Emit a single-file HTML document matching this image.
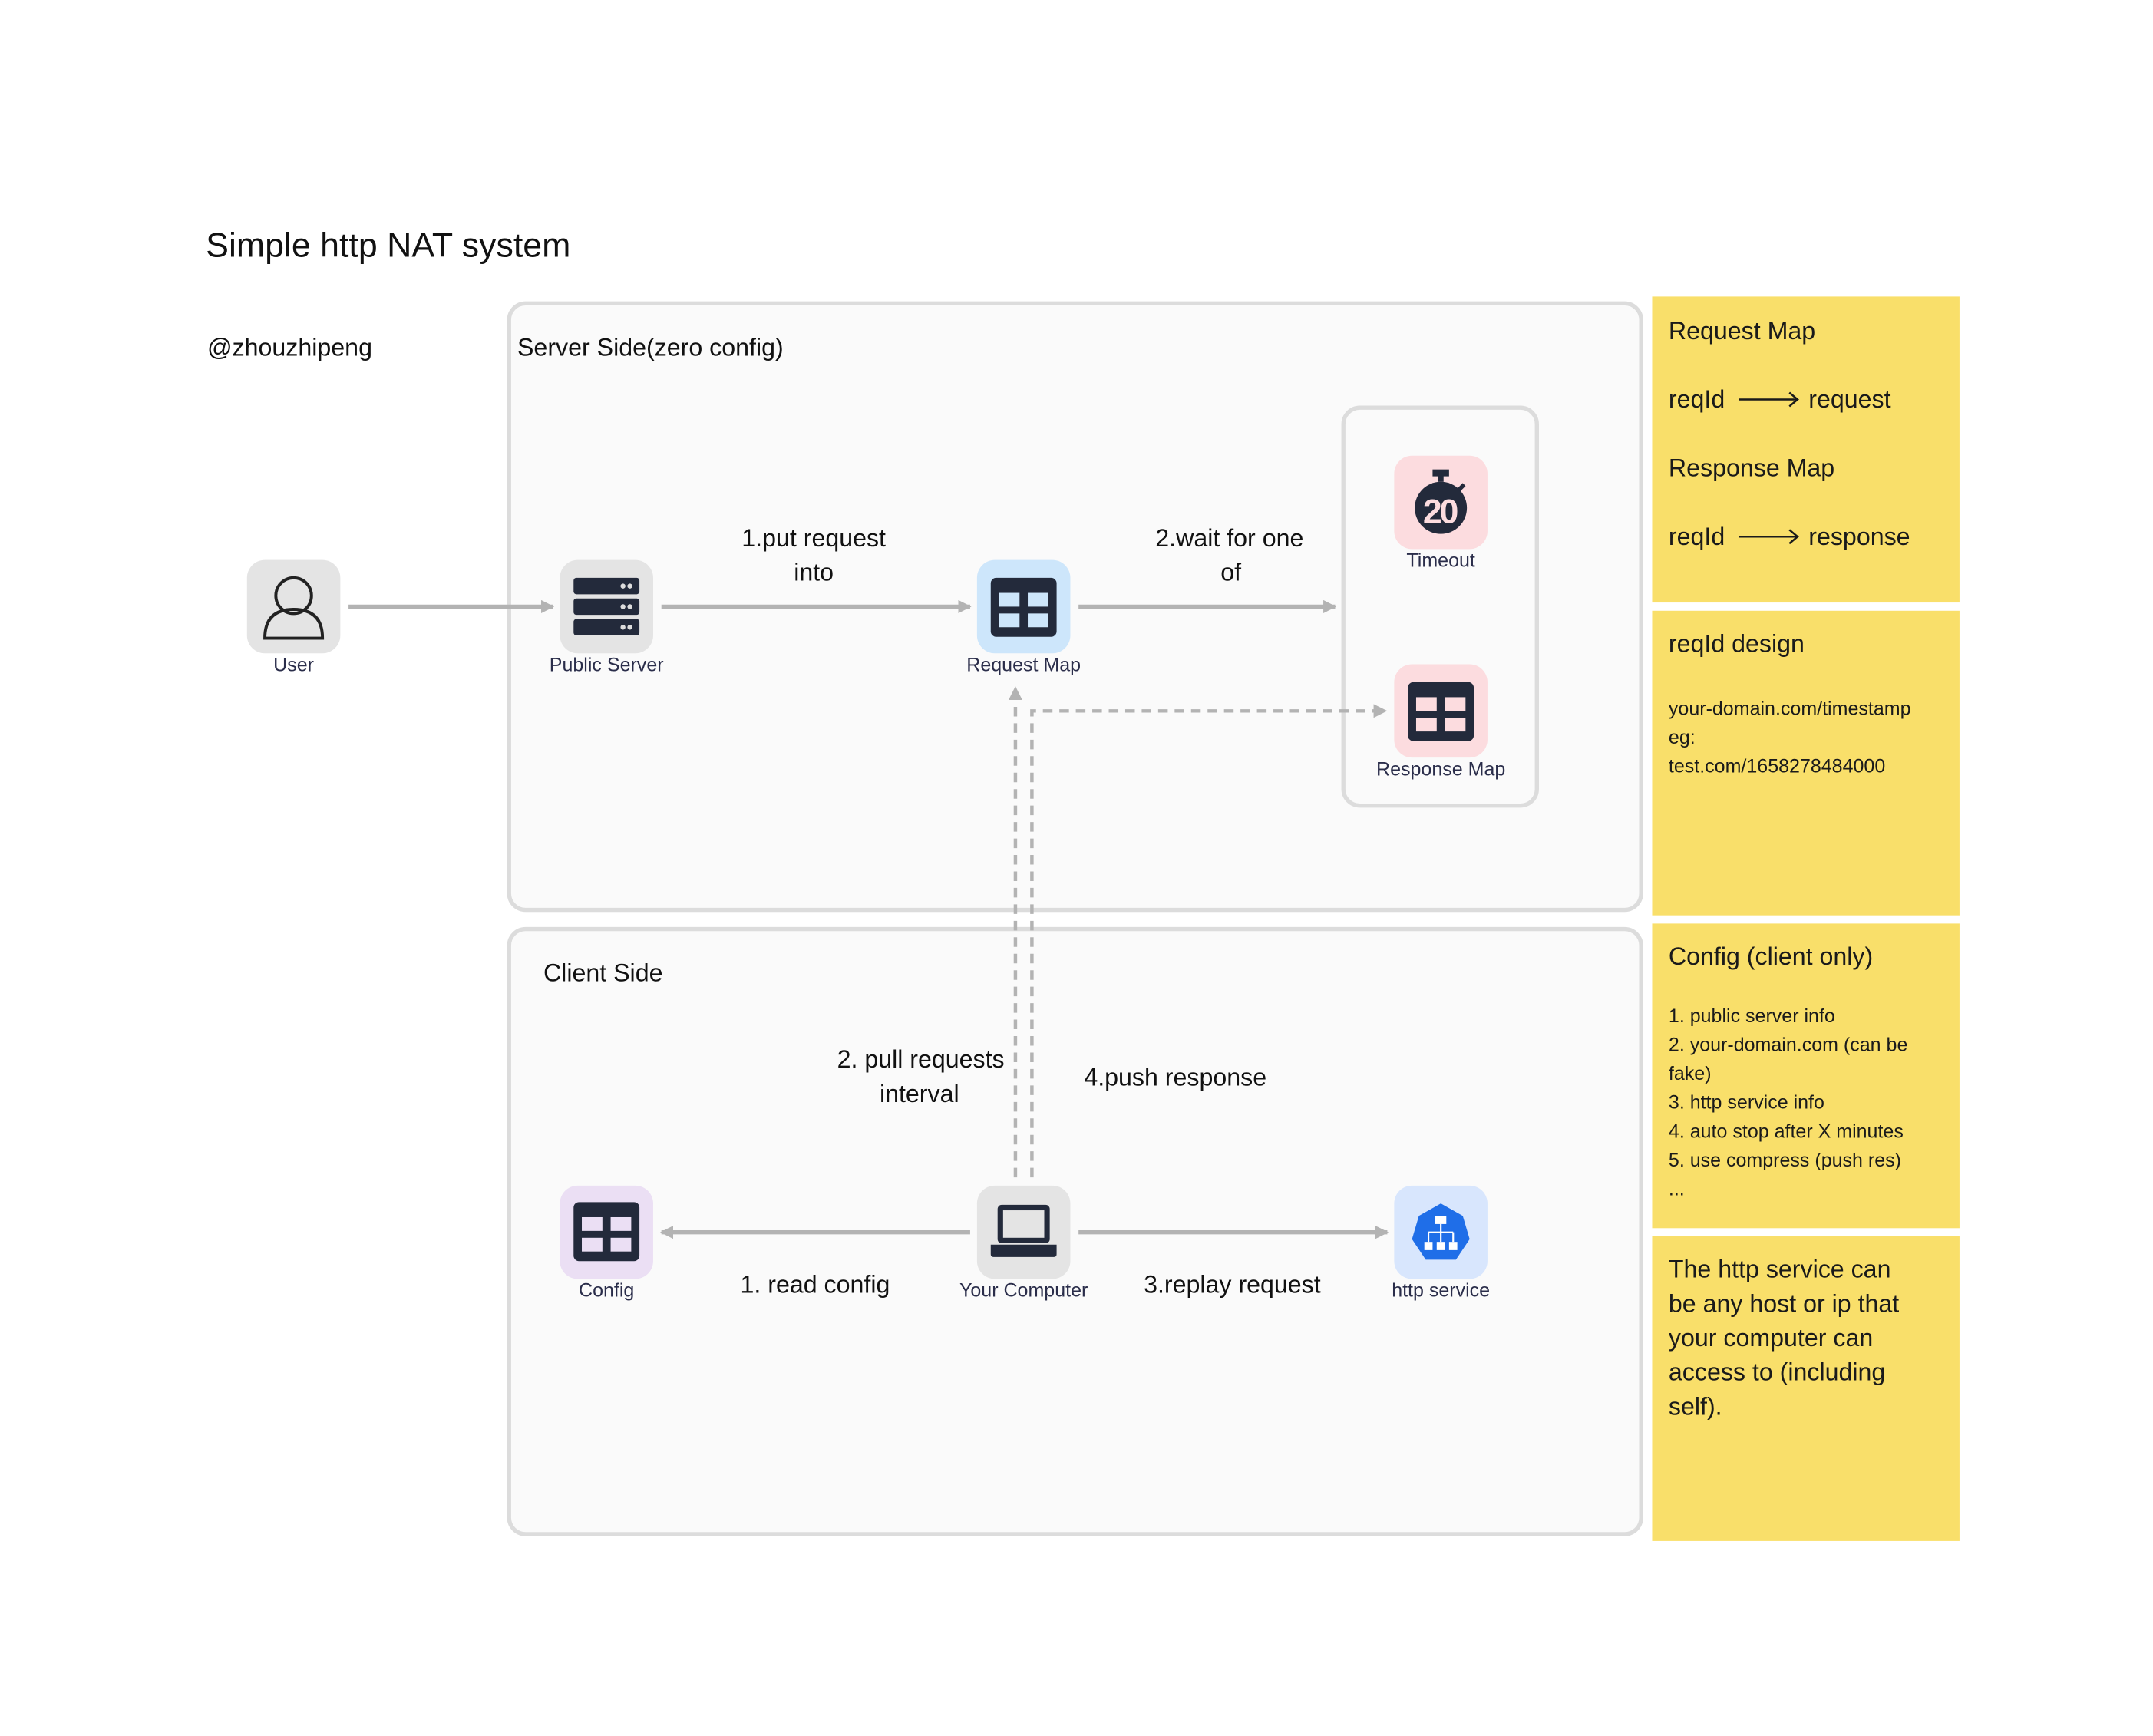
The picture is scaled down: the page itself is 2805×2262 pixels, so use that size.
<!DOCTYPE html>
<html><head><meta charset="utf-8"><style>
html,body{margin:0;padding:0;background:#fff;}
svg{display:block;}
text{font-family:"Liberation Sans",sans-serif;fill:#111;}
.lb{font-size:14px;fill:#2a2d4a;text-anchor:middle;}
.el{font-size:18px;fill:#111;}
.nt{font-size:18px;fill:#1a1a1a;}
.ns{font-size:14px;fill:#1a1a1a;}
</style></head><body>
<svg width="2805" height="2262" viewBox="0 0 1569 1265" xmlns="http://www.w3.org/2000/svg">
<defs>
<marker id="ah" viewBox="0 0 10 10" refX="9" refY="5" markerWidth="3.2" markerHeight="3.2" orient="auto"><path d="M0,0 L10,5 L0,10 z" fill="#b3b3b3"/></marker>
<marker id="ah2" viewBox="0 0 10 10" refX="9" refY="5" markerWidth="4" markerHeight="4" orient="auto"><path d="M0,0 L10,5 L0,10 z" fill="#b3b3b3"/></marker>
</defs>
<rect width="1569" height="1265" fill="#fff"/>
<text x="150" y="187" style="font-size:25px">Simple http NAT system</text>
<text x="151" y="259" class="el">@zhouzhipeng</text>

<rect x="371" y="221" width="825" height="442" rx="12" fill="#fafafa" stroke="#dcdcdc" stroke-width="3"/>
<rect x="371" y="677" width="825" height="441" rx="12" fill="#fafafa" stroke="#dcdcdc" stroke-width="3"/>
<rect x="979" y="297" width="141" height="290" rx="12" fill="#fafafa" stroke="#dcdcdc" stroke-width="3"/>
<text x="377" y="259" class="el">Server Side(zero config)</text>
<text x="396" y="715" class="el">Client Side</text>

<g stroke="#b3b3b3" stroke-width="3" fill="none">
<line x1="254" y1="442" x2="403" y2="442" marker-end="url(#ah)"/>
<line x1="482" y1="442" x2="707" y2="442" marker-end="url(#ah)"/>
<line x1="786" y1="442" x2="973" y2="442" marker-end="url(#ah)"/>
<line x1="707" y1="898" x2="482" y2="898" marker-end="url(#ah)"/>
<line x1="786" y1="898" x2="1011" y2="898" marker-end="url(#ah)"/>
<g stroke-dasharray="7,5" stroke-width="2.5">
<line x1="740" y1="858" x2="740" y2="501" marker-end="url(#ah2)"/>
<polyline points="752,858 752,518 1010,518" marker-end="url(#ah2)"/>
</g>
</g>

<text x="593" y="398" class="el" text-anchor="middle">1.put request</text>
<text x="593" y="423" class="el" text-anchor="middle">into</text>
<text x="896" y="398" class="el" text-anchor="middle">2.wait for one</text>
<text x="897" y="423" class="el" text-anchor="middle">of</text>
<text x="732" y="778" class="el" text-anchor="end">2. pull requests</text>
<text x="670" y="803" class="el" text-anchor="middle">interval</text>
<text x="790" y="791" class="el">4.push response</text>
<text x="594" y="942" class="el" text-anchor="middle">1. read config</text>
<text x="898" y="942" class="el" text-anchor="middle">3.replay request</text>

<rect x="180" y="408" width="68" height="68" rx="13" fill="#e4e4e4"/>
<circle cx="214" cy="434" r="13" fill="none" stroke="#222" stroke-width="2.2"/>
<path d="M193,465 Q193,444 214,444 Q235,444 235,465 Z" fill="none" stroke="#222" stroke-width="2.2"/>
<text x="214" y="489" class="lb">User</text>

<rect x="408" y="408" width="68" height="68" rx="13" fill="#e4e4e4"/>
<g fill="#232a3b">
<rect x="418" y="421" width="48" height="12" rx="2"/>
<rect x="418" y="436" width="48" height="12" rx="2"/>
<rect x="418" y="451" width="48" height="12" rx="2"/>
</g>
<g fill="#ddd"><circle cx="454" cy="427" r="1.8"/><circle cx="459" cy="427" r="1.8"/><circle cx="454" cy="442" r="1.8"/><circle cx="459" cy="442" r="1.8"/><circle cx="454" cy="457" r="1.8"/><circle cx="459" cy="457" r="1.8"/></g>
<text x="442" y="489" class="lb">Public Server</text>

<rect x="712" y="408" width="68" height="68" rx="13" fill="#cde6fb"/>
<rect x="722" y="421" width="48" height="43" rx="4" fill="#232a3b"/>
<g fill="#cde6fb"><rect x="728" y="432" width="15" height="10"/><rect x="749" y="432" width="15" height="10"/><rect x="728" y="447" width="15" height="10"/><rect x="749" y="447" width="15" height="10"/></g>
<text x="746" y="489" class="lb">Request Map</text>

<rect x="1016" y="332" width="68" height="68" rx="13" fill="#fcdcdf"/>
<rect x="1044" y="342" width="12" height="5" fill="#232a3b"/>
<rect x="1048" y="345" width="4" height="6" fill="#232a3b"/>
<circle cx="1050" cy="370" r="19" fill="#232a3b"/>
<line x1="1063" y1="357" x2="1067" y2="353" stroke="#232a3b" stroke-width="3"/>
<text x="1050" y="381" style="font-size:25px;font-weight:bold;fill:#fcdcdf;font-family:'Liberation Sans Narrow','Liberation Sans',sans-serif" text-anchor="middle" textLength="26">20</text>
<text x="1050" y="413" class="lb">Timeout</text>

<rect x="1016" y="484" width="68" height="68" rx="13" fill="#fcdcdf"/>
<rect x="1026" y="497" width="48" height="43" rx="4" fill="#232a3b"/>
<g fill="#fcdcdf"><rect x="1032" y="508" width="15" height="10"/><rect x="1053" y="508" width="15" height="10"/><rect x="1032" y="523" width="15" height="10"/><rect x="1053" y="523" width="15" height="10"/></g>
<text x="1050" y="565" class="lb">Response Map</text>

<rect x="408" y="864" width="68" height="68" rx="13" fill="#ebdff4"/>
<rect x="418" y="876" width="48" height="43" rx="4" fill="#232a3b"/>
<g fill="#ebdff4"><rect x="424" y="887" width="15" height="10"/><rect x="445" y="887" width="15" height="10"/><rect x="424" y="902" width="15" height="10"/><rect x="445" y="902" width="15" height="10"/></g>
<text x="442" y="945" class="lb">Config</text>

<rect x="712" y="864" width="68" height="68" rx="13" fill="#e4e4e4"/>
<rect x="727" y="878" width="38" height="28" rx="3" fill="#232a3b"/>
<rect x="731" y="882" width="30" height="20" fill="#e4e4e4"/>
<path d="M722,907 L770,907 L770,914 Q770,916 768,916 L724,916 Q722,916 722,914 Z" fill="#232a3b"/>
<text x="746" y="945" class="lb">Your Computer</text>

<rect x="1016" y="864" width="68" height="68" rx="13" fill="#d8e6fd"/>
<polygon points="1050,877 1066,886 1071,903 1061,918 1039,918 1029,903 1034,886" fill="#1f6ee8"/>
<g fill="#fff"><rect x="1046" y="886" width="8" height="6"/><rect x="1038" y="905" width="6" height="6"/><rect x="1047" y="905" width="6" height="6"/><rect x="1056" y="905" width="6" height="6"/></g>
<path d="M1050,892 V898 M1041,898 H1059 M1041,898 V905 M1050,898 V905 M1059,898 V905" stroke="#fff" stroke-width="1.2" fill="none"/>
<text x="1050" y="945" class="lb">http service</text>

<g fill="#f9df6a">
<rect x="1204" y="216" width="224" height="223"/>
<rect x="1204" y="445" width="224" height="222"/>
<rect x="1204" y="673" width="224" height="222"/>
<rect x="1204" y="901" width="224" height="222"/>
</g>
<text x="1216" y="247" class="nt">Request Map</text>
<text x="1216" y="297" class="nt">reqId</text>
<text x="1318" y="297" class="nt">request</text>
<text x="1216" y="347" class="nt">Response Map</text>
<text x="1216" y="397" class="nt">reqId</text>
<text x="1318" y="397" class="nt">response</text>
<g stroke="#1a1a1a" stroke-width="1.4" fill="none">
<path d="M1267,291 H1309 M1304,286 L1310,291 L1304,296"/>
<path d="M1267,391 H1309 M1304,386 L1310,391 L1304,396"/>
</g>
<text x="1216" y="475" class="nt">reqId design</text>
<text x="1216" y="521" class="ns">your-domain.com/timestamp</text>
<text x="1216" y="542" class="ns">eg:</text>
<text x="1216" y="563" class="ns">test.com/1658278484000</text>
<text x="1216" y="703" class="nt">Config (client only)</text>
<text x="1216" y="745" class="ns">1. public server info</text>
<text x="1216" y="766" class="ns">2. your-domain.com (can be</text>
<text x="1216" y="787" class="ns">fake)</text>
<text x="1216" y="808" class="ns">3. http service info</text>
<text x="1216" y="829" class="ns">4. auto stop after X minutes</text>
<text x="1216" y="850" class="ns">5. use compress (push res)</text>
<text x="1216" y="871" class="ns">...</text>
<text x="1216" y="931" class="nt">The http service can</text>
<text x="1216" y="956" class="nt">be any host or ip that</text>
<text x="1216" y="981" class="nt">your computer can</text>
<text x="1216" y="1006" class="nt">access to (including</text>
<text x="1216" y="1031" class="nt">self).</text>
</svg>
</body></html>
